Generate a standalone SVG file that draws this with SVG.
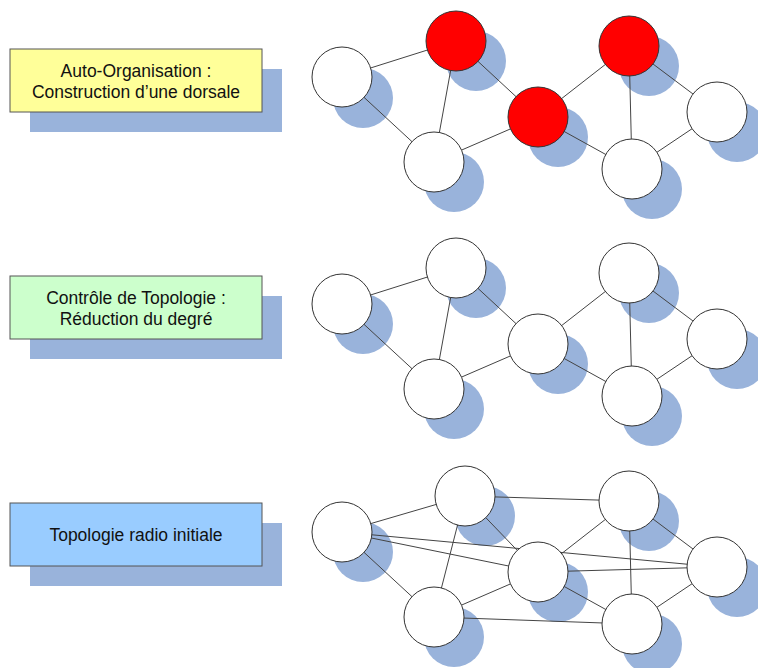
<svg xmlns="http://www.w3.org/2000/svg" width="758" height="668" viewBox="0 0 758 668">
<style>
.sh{fill:#99B3DB;stroke:none}
.box{stroke:#555;stroke-width:1}
.lbl{font-family:"Liberation Sans",Arial,sans-serif;font-size:17.5px;fill:#111;text-anchor:middle}
.e{stroke:#444;stroke-width:1;fill:none}
.n{fill:#fff;stroke:#333;stroke-width:1}
.r{fill:#FF0000;stroke:#333;stroke-width:1}
</style>
<rect width="758" height="668" fill="#fff"/>
<g id="label-auto">
<rect class="sh" x="30" y="69" width="252" height="63"/>
<rect class="box" x="10" y="49" width="252" height="63" fill="#FFFF99"/>
<text class="lbl" x="136" y="77">Auto-Organisation :</text>
<text class="lbl" x="136" y="98">Construction d’une dorsale</text>
</g>
<g id="label-controle">
<rect class="sh" x="30" y="296" width="252" height="63"/>
<rect class="box" x="10" y="276" width="252" height="63" fill="#CCFFCC"/>
<text class="lbl" x="136" y="304">Contrôle de Topologie :</text>
<text class="lbl" x="136" y="325">Réduction du degré</text>
</g>
<g id="label-initiale">
<rect class="sh" x="30" y="523" width="252" height="63"/>
<rect class="box" x="10" y="503" width="252" height="63" fill="#99CCFF"/>
<text class="lbl" x="136" y="541">Topologie radio initiale</text>
</g>
<g id="shadows">
<circle class="sh" cx="363" cy="98" r="30"/><circle class="sh" cx="476" cy="61" r="30"/><circle class="sh" cx="454" cy="182" r="30"/><circle class="sh" cx="558" cy="137" r="30"/><circle class="sh" cx="649" cy="66" r="30"/><circle class="sh" cx="737" cy="132" r="30"/><circle class="sh" cx="652" cy="189" r="30"/>
<circle class="sh" cx="363" cy="324" r="30"/><circle class="sh" cx="476" cy="288" r="30"/><circle class="sh" cx="454" cy="409" r="30"/><circle class="sh" cx="558" cy="364" r="30"/><circle class="sh" cx="649" cy="293" r="30"/><circle class="sh" cx="737" cy="359" r="30"/><circle class="sh" cx="652" cy="416" r="30"/>
<circle class="sh" cx="363" cy="552" r="30"/><circle class="sh" cx="485" cy="516" r="30"/><circle class="sh" cx="454" cy="637" r="30"/><circle class="sh" cx="558" cy="592" r="30"/><circle class="sh" cx="649" cy="521" r="30"/><circle class="sh" cx="737" cy="587" r="30"/><circle class="sh" cx="652" cy="644" r="30"/>
</g>
<g id="connectors">
<line class="e" x1="342" y1="77" x2="456" y2="41"/><line class="e" x1="342" y1="77" x2="434" y2="162"/><line class="e" x1="456" y1="41" x2="434" y2="162"/><line class="e" x1="456" y1="41" x2="538" y2="117"/><line class="e" x1="434" y1="162" x2="538" y2="117"/><line class="e" x1="538" y1="117" x2="629" y2="46"/><line class="e" x1="538" y1="117" x2="632" y2="169"/><line class="e" x1="629" y1="46" x2="632" y2="169"/><line class="e" x1="629" y1="46" x2="717" y2="112"/><line class="e" x1="717" y1="112" x2="632" y2="169"/>
<line class="e" x1="342" y1="304" x2="456" y2="268"/><line class="e" x1="342" y1="304" x2="434" y2="389"/><line class="e" x1="456" y1="268" x2="434" y2="389"/><line class="e" x1="456" y1="268" x2="538" y2="344"/><line class="e" x1="434" y1="389" x2="538" y2="344"/><line class="e" x1="538" y1="344" x2="629" y2="273"/><line class="e" x1="538" y1="344" x2="632" y2="396"/><line class="e" x1="629" y1="273" x2="632" y2="396"/><line class="e" x1="629" y1="273" x2="717" y2="339"/><line class="e" x1="717" y1="339" x2="632" y2="396"/>
<line class="e" x1="342" y1="532" x2="465" y2="496"/><line class="e" x1="342" y1="532" x2="434" y2="617"/><line class="e" x1="342" y1="532" x2="538" y2="572"/><line class="e" x1="342" y1="532" x2="717" y2="567"/><line class="e" x1="465" y1="496" x2="434" y2="617"/><line class="e" x1="465" y1="496" x2="538" y2="572"/><line class="e" x1="465" y1="496" x2="629" y2="501"/><line class="e" x1="434" y1="617" x2="538" y2="572"/><line class="e" x1="434" y1="617" x2="632" y2="624"/><line class="e" x1="538" y1="572" x2="629" y2="501"/><line class="e" x1="538" y1="572" x2="717" y2="567"/><line class="e" x1="538" y1="572" x2="632" y2="624"/><line class="e" x1="629" y1="501" x2="632" y2="624"/><line class="e" x1="629" y1="501" x2="717" y2="567"/><line class="e" x1="717" y1="567" x2="632" y2="624"/>
</g>
<g id="top-A"><circle class="n" cx="342" cy="77" r="30"/></g>
<g id="top-B"><circle class="r" cx="456" cy="41" r="30"/></g>
<g id="top-C"><circle class="n" cx="434" cy="162" r="30"/></g>
<g id="top-D"><circle class="r" cx="538" cy="117" r="30"/></g>
<g id="top-E"><circle class="r" cx="629" cy="46" r="30"/></g>
<g id="top-F"><circle class="n" cx="717" cy="112" r="30"/></g>
<g id="top-G"><circle class="n" cx="632" cy="169" r="30"/></g>
<g id="mid-A"><circle class="n" cx="342" cy="304" r="30"/></g>
<g id="mid-B"><circle class="n" cx="456" cy="268" r="30"/></g>
<g id="mid-C"><circle class="n" cx="434" cy="389" r="30"/></g>
<g id="mid-D"><circle class="n" cx="538" cy="344" r="30"/></g>
<g id="mid-E"><circle class="n" cx="629" cy="273" r="30"/></g>
<g id="mid-F"><circle class="n" cx="717" cy="339" r="30"/></g>
<g id="mid-G"><circle class="n" cx="632" cy="396" r="30"/></g>
<g id="bot-A"><circle class="n" cx="342" cy="532" r="30"/></g>
<g id="bot-B"><circle class="n" cx="465" cy="496" r="30"/></g>
<g id="bot-C"><circle class="n" cx="434" cy="617" r="30"/></g>
<g id="bot-D"><circle class="n" cx="538" cy="572" r="30"/></g>
<g id="bot-E"><circle class="n" cx="629" cy="501" r="30"/></g>
<g id="bot-F"><circle class="n" cx="717" cy="567" r="30"/></g>
<g id="bot-G"><circle class="n" cx="632" cy="624" r="30"/></g>
</svg>
